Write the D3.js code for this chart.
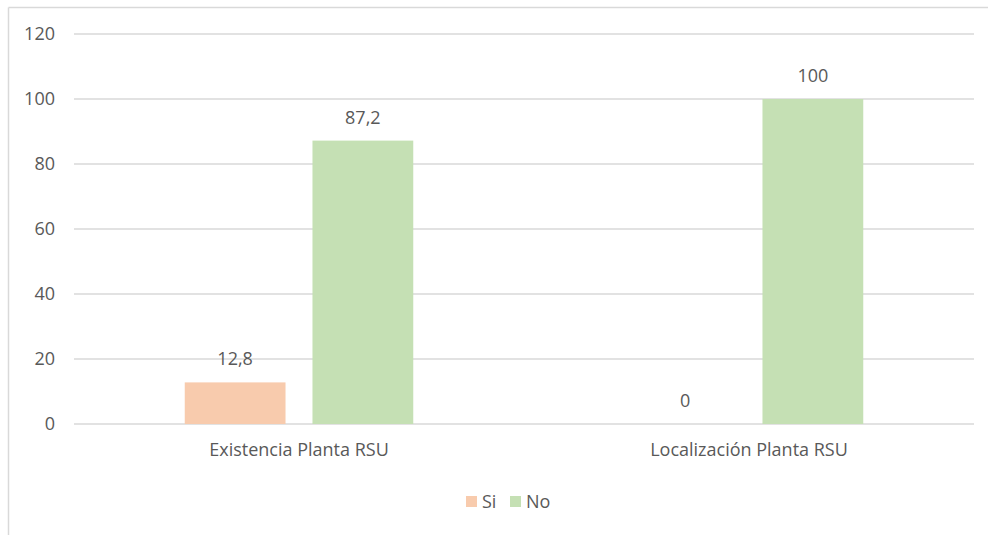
<!DOCTYPE html>
<head>
    <meta charset="utf-8">
    <script src="https://d3js.org/d3.v7.min.js"></script>
    <style>
        html, body { padding: 0; margin: 0; background: #fff; }
        svg { display: block; }
        text { font-family: "Open Sans", sans-serif; fill: #595959; }
    </style>
</head>
<body>
<svg width="988" height="535"></svg>
<script>
    // data
    var categories = ["Existencia Planta RSU", "Localización Planta RSU"];
    var seriesNames = ["Si", "No"];
    var siValues = [12.8, 0];
    var noValues = [87.2, 100];
    var yTicks = [0, 20, 40, 60, 80, 100, 120];

    var colors = {"Si": "#F8CBAD", "No": "#C5E0B4"};
    var fmt = function(v) { return String(v).replace(".", ","); };
    var fontSize = "18px";

    var svg = d3.select("svg");

    // chart frame (top and left edges only visible)
    svg.append("line").attr("x1", 8.5).attr("x2", 988).attr("y1", 7.5).attr("y2", 7.5)
        .attr("stroke", "#D9D9D9").attr("stroke-width", 1.5);
    svg.append("line").attr("x1", 8.5).attr("x2", 8.5).attr("y1", 7.5).attr("y2", 535)
        .attr("stroke", "#D9D9D9").attr("stroke-width", 1.5);

    var pLeft = 74, pRight = 974, pTop = 34, pBottom = 424;

    var x0 = d3.scaleBand().domain(categories).range([pLeft, pRight]);
    var x1 = d3.scaleBand().domain(seriesNames).range([0, x0.bandwidth()])
        .paddingInner(0.211).paddingOuter(0.867);
    var y = d3.scaleLinear().domain([0, 120]).range([pBottom, pTop]);

    // gridlines
    svg.append("g").selectAll("line")
        .data(yTicks)
        .enter().append("line")
        .attr("x1", pLeft).attr("x2", pRight)
        .attr("y1", function(d) { return y(d); })
        .attr("y2", function(d) { return y(d); })
        .attr("stroke", "#D9D9D9").attr("stroke-width", 1.5);

    // y axis labels
    var yAxis = svg.append("g")
        .attr("transform", "translate(" + (pLeft - 19) + ",0)")
        .call(d3.axisLeft(y).tickValues(yTicks).tickSize(0).tickPadding(0));
    yAxis.select(".domain").remove();
    yAxis.selectAll("text").style("font-size", fontSize).attr("fill", "#595959")
        .style("font-family", "'Open Sans', sans-serif");

    // x axis labels
    var xAxis = svg.append("g")
        .attr("transform", "translate(0," + pBottom + ")")
        .call(d3.axisBottom(x0).tickSize(0).tickPadding(19));
    xAxis.select(".domain").remove();
    xAxis.selectAll("text").style("font-size", fontSize).attr("fill", "#595959")
        .style("font-family", "'Open Sans', sans-serif");

    var rows = categories.map(function(c, i) {
        return {cat: c, vals: [{key: "Si", v: siValues[i]}, {key: "No", v: noValues[i]}]};
    });

    var grp = svg.append("g").selectAll("g")
        .data(rows)
        .enter().append("g")
        .attr("transform", function(d) { return "translate(" + x0(d.cat) + ",0)"; });

    grp.selectAll("rect")
        .data(function(d) { return d.vals; })
        .enter().append("rect")
        .attr("x", function(d) { return x1(d.key); })
        .attr("width", x1.bandwidth())
        .attr("y", function(d) { return y(d.v); })
        .attr("height", function(d) { return pBottom - y(d.v); })
        .attr("fill", function(d) { return colors[d.key]; });

    grp.selectAll("text.lbl")
        .data(function(d) { return d.vals; })
        .enter().append("text")
        .attr("class", "lbl")
        .attr("x", function(d) { return x1(d.key) + x1.bandwidth() / 2; })
        .attr("y", function(d) { return y(d.v) - 17; })
        .attr("text-anchor", "middle")
        .style("font-size", fontSize)
        .text(function(d) { return fmt(d.v); });

    // legend
    var legend = svg.append("g").attr("transform", "translate(466,496)");
    var legX = [0, 44];
    seriesNames.forEach(function(s, i) {
        legend.append("rect").attr("x", legX[i]).attr("y", 0).attr("width", 11).attr("height", 11)
            .attr("fill", colors[s]);
        legend.append("text").attr("x", legX[i] + 16).attr("y", 12)
            .style("font-size", fontSize).text(s);
    });
</script>
</body>
